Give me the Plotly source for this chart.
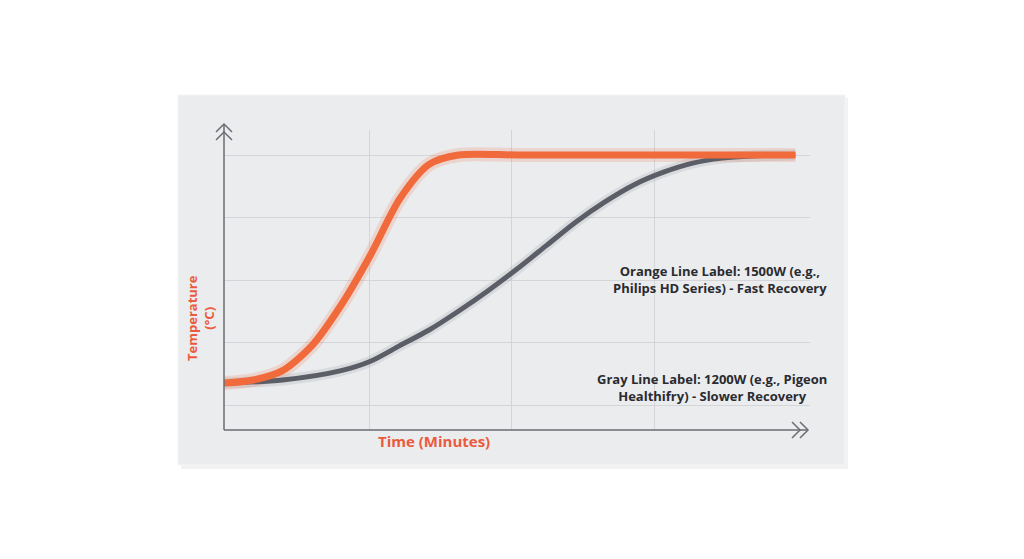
import plotly.graph_objects as go

time_x = [0, 0.5, 1, 1.5, 2, 2.5, 3, 3.5, 4, 5, 6, 7, 8, 9, 9.75]
orange_y = [27, 28, 31, 39, 52, 68, 86, 97, 100, 100, 100, 100, 100, 100, 100]
gray_x = [0, 1, 2, 2.5, 3, 3.5, 4, 4.5, 5, 5.5, 6, 6.5, 7, 7.5, 8, 8.5, 9, 9.75]
gray_y = [27, 28, 31, 34, 39, 44, 50, 56.5, 63.5, 71, 78.5, 85, 90.5, 94.5, 97.4, 99, 99.7, 100]
orange_label = "Orange Line Label: 1500W (e.g.,<br>Philips HD Series) - Fast Recovery"
gray_label = "Gray Line Label: 1200W (e.g., Pigeon<br>Healthifry) - Slower Recovery"

RED = "#ec5a3c"
ORANGE = "#f06a3b"
GRAY = "#5b5e66"
FONT = "Open Sans"

fig = go.Figure()
fig.add_trace(go.Scatter(x=time_x, y=orange_y, mode="lines", line=dict(color="rgba(240,106,59,0.18)", width=14, shape="spline", smoothing=0.8), hoverinfo="skip"))
fig.add_trace(go.Scatter(x=gray_x, y=gray_y, mode="lines", line=dict(color="rgba(91,94,102,0.12)", width=11, shape="spline", smoothing=0.8), hoverinfo="skip"))
fig.add_trace(go.Scatter(x=gray_x, y=gray_y, mode="lines", line=dict(color=GRAY, width=5, shape="spline", smoothing=0.8)))
fig.add_trace(go.Scatter(x=time_x, y=orange_y, mode="lines", line=dict(color=ORANGE, width=7, shape="spline", smoothing=0.8)))

W, H = 1024, 559
OFF = 8
L, R, T, B = 224, 810, 130, 430
def px(x): return (x - L) / (R - L)
def py(y): return (B - y) / (B - T)

shapes = [
    dict(type="rect", xref="paper", yref="paper", x0=px(181), x1=px(848), y0=py(469), y1=py(98),
         fillcolor="rgba(0,0,0,0.05)", line=dict(width=0), layer="below"),
    dict(type="rect", xref="paper", yref="paper", x0=px(178), x1=px(845), y0=py(465), y1=py(95),
         fillcolor="#ebecee", line=dict(color="#f4f5f6", width=1), layer="below"),
    dict(type="line", xref="paper", yref="paper", x0=0, x1=0, y0=0, y1=py(124), line=dict(color="#6a6d73", width=1.5)),
    dict(type="line", xref="paper", yref="paper", x0=0, x1=px(808), y0=0, y1=0, line=dict(color="#6a6d73", width=1.5)),
]
for dy in (0, 8):
    shapes.append(dict(type="path", xref="paper", yref="paper",
        path=f"M {px(216)},{py(132+dy)} L {px(224)},{py(124+dy)} L {px(232)},{py(132+dy)}",
        line=dict(color="#6a6d73", width=1.5)))
for dx in (0, 8):
    shapes.append(dict(type="path", xref="paper", yref="paper",
        path=f"M {px(800-dx)},{py(422)} L {px(808-dx)},{py(430)} L {px(800-dx)},{py(438)}",
        line=dict(color="#6a6d73", width=1.5)))

def ann(text, x, y, size, color, angle=0):
    return dict(text=text, xref="paper", yref="paper", x=px(x), y=py(y), showarrow=False,
                xanchor="center", yanchor="middle", textangle=angle, align="center",
                font=dict(family=FONT, size=size, color=color, weight="bold"))

annotations = [
    ann("Temperature<br>(°C)", 200, 318, 13, RED, -90),
    ann("Time (Minutes)", 434, 441, 15, RED),
    ann(orange_label, 720, 279, 13, "#2a2b2e"),
    ann(gray_label, 712, 387, 13, "#2a2b2e"),
]

fig.update_layout(
    width=W, height=H, margin=dict(l=L - OFF, r=W - R + OFF, t=T - OFF, b=H - B + OFF),
    paper_bgcolor="white", plot_bgcolor="rgba(0,0,0,0)", showlegend=False,
    shapes=shapes, annotations=annotations,
    xaxis=dict(range=[0, 10], tickvals=[2.49, 4.91, 7.34], showticklabels=False, showgrid=True,
               gridcolor="#d3d5d9", zeroline=False, showline=False),
    yaxis=dict(range=[12, 108], tickvals=[20, 40, 60, 80, 100], showticklabels=False, showgrid=True,
               gridcolor="#d3d5d9", zeroline=False, showline=False),
)
fig.write_html("out.html")
